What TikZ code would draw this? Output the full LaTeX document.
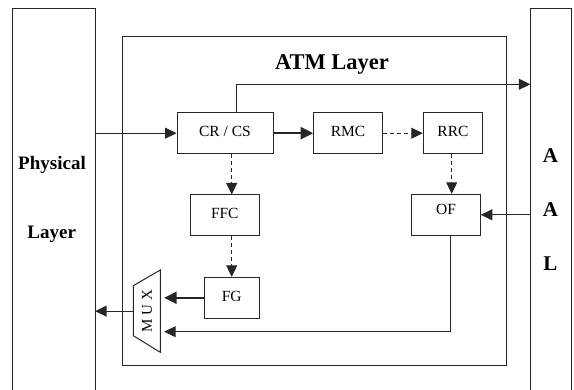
\documentclass[tikz,border=0pt]{standalone}
\usepackage{fontspec}
\setmainfont{Liberation Serif}
\usetikzlibrary{arrows.meta,calc}
\begin{document}
\begin{tikzpicture}[x=1pt,y=-1pt,
  ln/.style={draw=black!85,line width=1pt},
  blk/.style={ln,rectangle,inner sep=0pt,font=\fontsize{15.5}{17}\selectfont,text height=0.66em,text depth=0pt},
  arr/.style={ln,-{Triangle[length=11.5pt,width=11pt]}},
  tarr/.style={ln,line width=2.2pt,-{Triangle[length=12.5pt,width=12pt]}},
  darr/.style={arr,dash pattern=on 4pt off 3pt},
  bigtxt/.style={font=\fontsize{19}{21}\selectfont\bfseries,anchor=base,inner sep=0pt}
]
\useasboundingbox (0,0) rectangle (574,390);
% side layers
\node[minimum width=83pt,minimum height=381pt,inner sep=0pt] (phy) at (53.5,199.5) {};
\draw[ln] (12,390) -- (12,9) -- (95,9) -- (95,390);
\node[minimum width=41pt,minimum height=381pt,inner sep=0pt] (aal) at (551,199.5) {};
\draw[ln] (530.5,390) -- (530.5,9) -- (571.5,9) -- (571.5,390);
\node[bigtxt] (tphy) at (52,170) {Physical};
\node[bigtxt] (tlay) at (51.7,238.3) {Layer};
\node[bigtxt,font=\fontsize{21}{23}\selectfont\bfseries] (ta1) at (550.5,162.7) {A};
\node[bigtxt,font=\fontsize{21}{23}\selectfont\bfseries] (ta2) at (550.5,216.7) {A};
\node[bigtxt,font=\fontsize{21}{23}\selectfont\bfseries] (tl) at (550.5,271) {L};
% ATM layer
\node[ln,rectangle,minimum width=384pt,minimum height=329pt,inner sep=0pt] (atm) at (314,201.2) {};
\node[bigtxt,font=\fontsize{22.5}{25}\selectfont\bfseries] (tatm) at (332,70) {ATM Layer};
% blocks
\node[blk,minimum width=96pt,minimum height=41pt] (crcs) at (225,133.2) {CR / CS};
\node[blk,minimum width=68.6pt,minimum height=41pt] (rmc) at (348,133.2) {RMC};
\node[blk,minimum width=59.4pt,minimum height=41pt] (rrc) at (453,133.2) {RRC};
\node[blk,minimum width=69pt,minimum height=40.7pt] (ffc) at (224.8,215.3) {FFC};
\node[blk,minimum width=68.6pt,minimum height=41pt,text depth=8pt] (of) at (446,214.8) {OF};
\node[blk,minimum width=55.3pt,minimum height=41pt] (fg) at (231.7,297.8) {FG};
% MUX
\node[minimum width=27pt,minimum height=82.3pt,inner sep=0pt] (mux) at (146.8,311.15) {};
\draw[ln] (133.3,285.7) -- (160.3,270) -- (160.3,352.3) -- (133.3,335.7) -- cycle;
\node[rotate=90,font=\fontsize{15}{17}\selectfont,inner sep=0pt] (tmux) at (147,311) {M U X};
% connectors
\coordinate (topy) at (0,84.3);
\coordinate (ofy) at (0,331.7);
\draw[arr] (phy.east |- crcs) -- (crcs.west);
\draw[arr] ([xshift=11pt]crcs.north) |- (aal.west |- topy);
\draw[tarr] (crcs.east) -- (rmc.west);
\draw[darr] (rmc.east) -- (rrc.west);
\draw[darr] ([xshift=-1.3pt]rrc.south) -- ([xshift=-1.3pt]rrc.south |- of.north);
\draw[arr] (aal.west |- of) -- (of.east);
\draw[darr] ([xshift=6.7pt]crcs.south) -- ([xshift=6.7pt]crcs.south |- ffc.north);
\draw[darr] (ffc.south -| fg) -- (fg.north);
\draw[tarr,shorten >=3.7pt] (fg.west) -- (fg.west -| mux.east);
\draw[arr] (mux.west) -- (mux.west -| phy.east);
\draw[arr,shorten >=3.7pt] ([xshift=4pt]of.south) |- (mux.east |- ofy);
\end{tikzpicture}
\end{document}
